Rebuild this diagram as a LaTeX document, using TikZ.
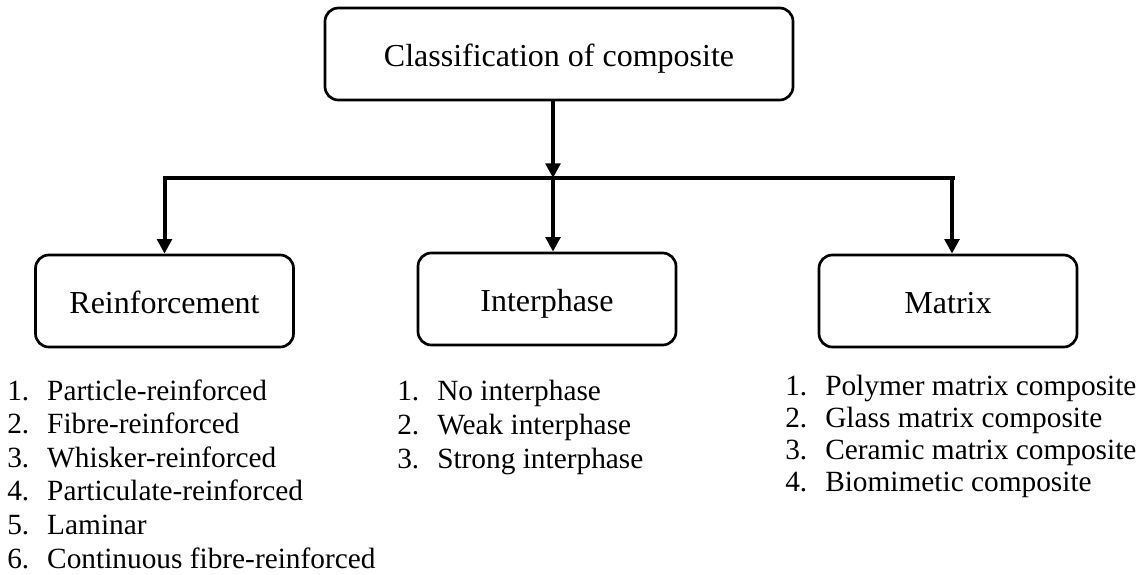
\documentclass[tikz,border=0pt]{standalone}
\usepackage{fontspec}
\setmainfont{Liberation Serif}
\usetikzlibrary{arrows.meta}
\begin{document}
\begin{tikzpicture}[x=0.75pt,y=-0.75pt,
  box/.style={draw,line width=2pt,rounded corners=10pt,minimum height=69pt,
              inner sep=0pt,text height=19pt,text depth=0pt,
              font=\fontsize{24}{28}\selectfont},
  catbox/.style={box,minimum width=193.5pt},
  conn/.style={line width=3pt},
  tip/.style={-{Triangle[width=11pt,length=11pt]}},
  item/.style={anchor=base west,inner sep=0pt,font=\fontsize{22}{25}\selectfont}]
\useasboundingbox (0,0) rectangle (1143,575);

% boxes
\node[box,minimum width=351pt] (top) at (559,54) {Classification of composite};
\node[catbox] (rein)  at (164.5,301) {Reinforcement};
\node[catbox] (inter) at (547,299)   {Interphase};
\node[catbox] (mat)   at (948,301)   {Matrix};

% branching connectors
\coordinate (join) at (553,178);
\coordinate (barL) at (rein.north |- join);
\coordinate (barR) at (955,178);
\coordinate (matT) at (952,178);
\draw[conn,tip] (top.south -| join) -- (join);
\draw[conn,tip] (join) -- (join |- inter.north);
\draw[conn,tip] (barR) -- (barL) -- (rein.north);
\draw[conn,tip] (matT) -- (matT |- mat.north);

% lists
\foreach [count=\i] \t in {Particle-reinforced, Fibre-reinforced,
    Whisker-reinforced, Particulate-reinforced, Laminar,
    Continuous fibre-reinforced}
  \node[item] (rl\i) at (7,{400+33.6*(\i-1)}) {\makebox[30pt][l]{\i.}\t};
\foreach [count=\i] \t in {No interphase, Weak interphase, Strong interphase}
  \node[item] (il\i) at (397,{400+34*(\i-1)}) {\makebox[30pt][l]{\i.}\t};
\foreach [count=\i] \t in {Polymer matrix composite, Glass matrix composite,
    Ceramic matrix composite, Biomimetic composite}
  \node[item] (ml\i) at (785,{395+32.3*(\i-1)}) {\makebox[30pt][l]{\i.}\t};
\end{tikzpicture}
\end{document}
